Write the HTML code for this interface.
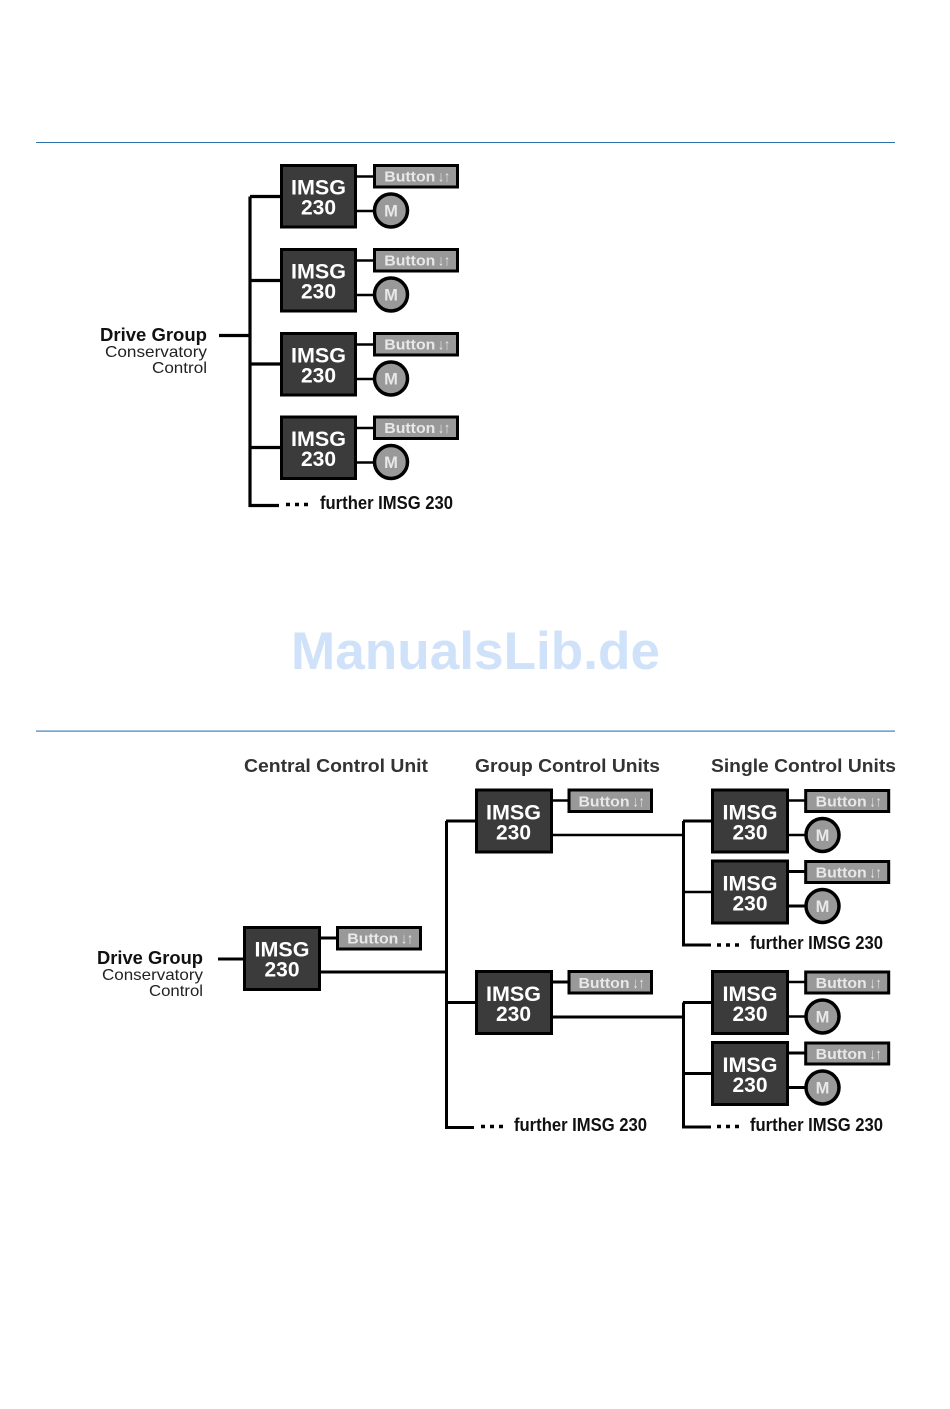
<!DOCTYPE html>
<html lang="en">
<head>
<meta charset="utf-8">
<title>Drive Group Diagrams</title>
<style>
html,body{margin:0;padding:0;background:#fff;width:950px;height:1409px;overflow:hidden}
svg{display:block;filter:blur(.3px)}
text{font-family:"Liberation Sans",sans-serif}
.i{font-weight:700;font-size:21px;fill:#fff;text-anchor:middle}
.b{font-weight:700;font-size:15px;fill:#e8e8e8}
.a{font-weight:700;font-size:15px;fill:#e8e8e8}
.m{font-weight:700;font-size:16.5px;fill:#e8e8e8;text-anchor:middle}
.box{fill:#3b3b3b;stroke:#000;stroke-width:3}
.btn{fill:#999;stroke:#000;stroke-width:3}
.mot{fill:#999;stroke:#000;stroke-width:3.5}
.h{font-weight:700;font-size:18px;fill:#333}
.f{font-weight:700;font-size:18px;fill:#111}
.dg{font-weight:700;font-size:18.5px;fill:#111}
.dl{font-size:16px;fill:#222}
.l{stroke:#000;fill:none}
</style>
</head>
<body>
<svg width="950" height="1409" viewBox="0 0 950 1409" xmlns="http://www.w3.org/2000/svg">
<rect width="950" height="1409" fill="#fff"/>
<rect x="36" y="142" width="859" height="1" fill="#2f74a8"/>
<rect x="36" y="730.5" width="859" height="1.2" fill="#3f82b8"/>

<text x="291" y="669" font-size="53" font-weight="700" fill="#cfe2fa" textLength="369" lengthAdjust="spacingAndGlyphs">ManualsLib.de</text>

<!-- Diagram 1 connectors -->
<g class="l" stroke-width="3.2">
<path d="M219 335.5H250M250 196.5V505.5H279M250 196.5H281M250 280.5H281M250 364H281M250 447.5H281"/>
</g>
<path d="M286 504.5h24" stroke="#000" stroke-width="3.5" stroke-dasharray="4 5"/>
<text class="f" x="320" y="509" textLength="133" lengthAdjust="spacingAndGlyphs">further IMSG 230</text>
<text class="dg" x="100" y="341" textLength="107" lengthAdjust="spacingAndGlyphs">Drive Group</text>
<text class="dl" x="105" y="357" textLength="102" lengthAdjust="spacingAndGlyphs">Conservatory</text>
<text class="dl" x="152" y="373" textLength="55" lengthAdjust="spacingAndGlyphs">Control</text>

<!-- Diagram 1 modules -->
<g transform="translate(281,165)">
<path class="l" stroke-width="2.5" d="M75 11.5H93M75 46H93"/>
<rect class="box" x="0.5" y="0.5" width="74" height="61.5"/>
<text class="i" x="37.5" y="29.7" textLength="55" lengthAdjust="spacingAndGlyphs">IMSG</text>
<text class="i" x="37.5" y="49.7" textLength="35" lengthAdjust="spacingAndGlyphs">230</text>
<rect class="btn" x="93.5" y="0.5" width="83" height="21.5"/>
<text class="b" x="103.3" y="16.7" textLength="51" lengthAdjust="spacingAndGlyphs">Button</text>
<text class="a" x="157" y="16.7" textLength="12" lengthAdjust="spacingAndGlyphs">↓↑</text>
<circle class="mot" cx="110" cy="45.5" r="16.5"/>
<text class="m" x="110" y="51.3">M</text>
</g>
<g transform="translate(281,249)">
<path class="l" stroke-width="2.5" d="M75 11.5H93M75 46H93"/>
<rect class="box" x="0.5" y="0.5" width="74" height="61.5"/>
<text class="i" x="37.5" y="29.7" textLength="55" lengthAdjust="spacingAndGlyphs">IMSG</text>
<text class="i" x="37.5" y="49.7" textLength="35" lengthAdjust="spacingAndGlyphs">230</text>
<rect class="btn" x="93.5" y="0.5" width="83" height="21.5"/>
<text class="b" x="103.3" y="16.7" textLength="51" lengthAdjust="spacingAndGlyphs">Button</text>
<text class="a" x="157" y="16.7" textLength="12" lengthAdjust="spacingAndGlyphs">↓↑</text>
<circle class="mot" cx="110" cy="45.5" r="16.5"/>
<text class="m" x="110" y="51.3">M</text>
</g>
<g transform="translate(281,333)">
<path class="l" stroke-width="2.5" d="M75 11.5H93M75 46H93"/>
<rect class="box" x="0.5" y="0.5" width="74" height="61.5"/>
<text class="i" x="37.5" y="29.7" textLength="55" lengthAdjust="spacingAndGlyphs">IMSG</text>
<text class="i" x="37.5" y="49.7" textLength="35" lengthAdjust="spacingAndGlyphs">230</text>
<rect class="btn" x="93.5" y="0.5" width="83" height="21.5"/>
<text class="b" x="103.3" y="16.7" textLength="51" lengthAdjust="spacingAndGlyphs">Button</text>
<text class="a" x="157" y="16.7" textLength="12" lengthAdjust="spacingAndGlyphs">↓↑</text>
<circle class="mot" cx="110" cy="45.5" r="16.5"/>
<text class="m" x="110" y="51.3">M</text>
</g>
<g transform="translate(281,416.5)">
<path class="l" stroke-width="2.5" d="M75 11.5H93M75 46H93"/>
<rect class="box" x="0.5" y="0.5" width="74" height="61.5"/>
<text class="i" x="37.5" y="29.7" textLength="55" lengthAdjust="spacingAndGlyphs">IMSG</text>
<text class="i" x="37.5" y="49.7" textLength="35" lengthAdjust="spacingAndGlyphs">230</text>
<rect class="btn" x="93.5" y="0.5" width="83" height="21.5"/>
<text class="b" x="103.3" y="16.7" textLength="51" lengthAdjust="spacingAndGlyphs">Button</text>
<text class="a" x="157" y="16.7" textLength="12" lengthAdjust="spacingAndGlyphs">↓↑</text>
<circle class="mot" cx="110" cy="45.5" r="16.5"/>
<text class="m" x="110" y="51.3">M</text>
</g>

<!-- Diagram 2 headers -->
<text class="h" x="244" y="772" textLength="184" lengthAdjust="spacingAndGlyphs">Central Control Unit</text>
<text class="h" x="475" y="772" textLength="185" lengthAdjust="spacingAndGlyphs">Group Control Units</text>
<text class="h" x="711" y="772" textLength="185" lengthAdjust="spacingAndGlyphs">Single Control Units</text>

<text class="dg" x="97" y="964" textLength="106" lengthAdjust="spacingAndGlyphs">Drive Group</text>
<text class="dl" x="102" y="980" textLength="101" lengthAdjust="spacingAndGlyphs">Conservatory</text>
<text class="dl" x="149" y="996" textLength="54" lengthAdjust="spacingAndGlyphs">Control</text>

<!-- Diagram 2 connectors -->
<g class="l" stroke-width="3">
<path d="M218 959H245M320 972H446M446.5 821V1127.5H474M446 821H476M446 1002.5H476"/>
<path d="M552 1017H683M683.5 1002.5V1127H711M683 1002.5H712M683 1073.5H712"/>
<path d="M683.5 821V945H711M683 821H712"/>
</g>
<path class="l" stroke-width="2.4" d="M552 835H683M683 892H712"/>
<path d="M481 1126.5h24M717 945h26M717 1126.5h26" stroke="#000" stroke-width="3.5" stroke-dasharray="4 5"/>
<text class="f" x="514" y="1131" textLength="133" lengthAdjust="spacingAndGlyphs">further IMSG 230</text>
<text class="f" x="750" y="949" textLength="133" lengthAdjust="spacingAndGlyphs">further IMSG 230</text>
<text class="f" x="750" y="1131" textLength="133" lengthAdjust="spacingAndGlyphs">further IMSG 230</text>

<!-- Central -->
<g transform="translate(244,927)">
<path class="l" stroke-width="3" d="M75 11H93"/>
<rect class="box" x="0.5" y="0.5" width="75" height="62"/>
<text class="i" x="38" y="29.7" textLength="55" lengthAdjust="spacingAndGlyphs">IMSG</text>
<text class="i" x="38" y="49.7" textLength="35" lengthAdjust="spacingAndGlyphs">230</text>
<rect class="btn" x="93.5" y="0.5" width="83" height="21.5"/>
<text class="b" x="103.3" y="16.7" textLength="51" lengthAdjust="spacingAndGlyphs">Button</text>
<text class="a" x="157" y="16.7" textLength="12" lengthAdjust="spacingAndGlyphs">↓↑</text>
</g>

<!-- Group -->
<g transform="translate(476,789.5)">
<path class="l" stroke-width="2.5" d="M75 11H93"/>
<rect class="box" x="0.5" y="0.5" width="75" height="62"/>
<text class="i" x="37.5" y="30.2" textLength="55" lengthAdjust="spacingAndGlyphs">IMSG</text>
<text class="i" x="37.5" y="50.2" textLength="35" lengthAdjust="spacingAndGlyphs">230</text>
<rect class="btn" x="93" y="0.5" width="82.5" height="21.5"/>
<text class="b" x="102.5" y="17" textLength="51" lengthAdjust="spacingAndGlyphs">Button</text>
<text class="a" x="156.5" y="17" textLength="12" lengthAdjust="spacingAndGlyphs">↓↑</text>
</g>
<g transform="translate(476,971)">
<path class="l" stroke-width="3" d="M75 11H93"/>
<rect class="box" x="0.5" y="0.5" width="75" height="62"/>
<text class="i" x="37.5" y="30.2" textLength="55" lengthAdjust="spacingAndGlyphs">IMSG</text>
<text class="i" x="37.5" y="50.2" textLength="35" lengthAdjust="spacingAndGlyphs">230</text>
<rect class="btn" x="93" y="0.5" width="82.5" height="21.5"/>
<text class="b" x="102.5" y="17" textLength="51" lengthAdjust="spacingAndGlyphs">Button</text>
<text class="a" x="156.5" y="17" textLength="12" lengthAdjust="spacingAndGlyphs">↓↑</text>
</g>

<!-- Single -->
<g transform="translate(712,789.5)">
<path class="l" stroke-width="2.5" d="M75 11H94M75 45.5H94"/>
<rect class="box" x="0.5" y="0.5" width="75" height="62"/>
<text class="i" x="38" y="30.2" textLength="55" lengthAdjust="spacingAndGlyphs">IMSG</text>
<text class="i" x="38" y="50.2" textLength="35" lengthAdjust="spacingAndGlyphs">230</text>
<rect class="btn" x="93.7" y="1" width="83" height="21"/>
<text class="b" x="103.7" y="17" textLength="51" lengthAdjust="spacingAndGlyphs">Button</text>
<text class="a" x="157.5" y="17" textLength="12" lengthAdjust="spacingAndGlyphs">↓↑</text>
<circle class="mot" cx="110.5" cy="45.5" r="16.5"/>
<text class="m" x="110.5" y="51.3">M</text>
</g>
<g transform="translate(712,860.5)">
<path class="l" stroke-width="3" d="M75 11H94M75 45.5H94"/>
<rect class="box" x="0.5" y="0.5" width="75" height="62"/>
<text class="i" x="38" y="30.2" textLength="55" lengthAdjust="spacingAndGlyphs">IMSG</text>
<text class="i" x="38" y="50.2" textLength="35" lengthAdjust="spacingAndGlyphs">230</text>
<rect class="btn" x="93.7" y="1" width="83" height="21"/>
<text class="b" x="103.7" y="17" textLength="51" lengthAdjust="spacingAndGlyphs">Button</text>
<text class="a" x="157.5" y="17" textLength="12" lengthAdjust="spacingAndGlyphs">↓↑</text>
<circle class="mot" cx="110.5" cy="45.5" r="16.5"/>
<text class="m" x="110.5" y="51.3">M</text>
</g>
<g transform="translate(712,971)">
<path class="l" stroke-width="2.5" d="M75 11H94M75 45.5H94"/>
<rect class="box" x="0.5" y="0.5" width="75" height="62"/>
<text class="i" x="38" y="30.2" textLength="55" lengthAdjust="spacingAndGlyphs">IMSG</text>
<text class="i" x="38" y="50.2" textLength="35" lengthAdjust="spacingAndGlyphs">230</text>
<rect class="btn" x="93.7" y="1" width="83" height="21"/>
<text class="b" x="103.7" y="17" textLength="51" lengthAdjust="spacingAndGlyphs">Button</text>
<text class="a" x="157.5" y="17" textLength="12" lengthAdjust="spacingAndGlyphs">↓↑</text>
<circle class="mot" cx="110.5" cy="45.5" r="16.5"/>
<text class="m" x="110.5" y="51.3">M</text>
</g>
<g transform="translate(712,1042)">
<path class="l" stroke-width="3" d="M75 11H94M75 45.5H94"/>
<rect class="box" x="0.5" y="0.5" width="75" height="62"/>
<text class="i" x="38" y="30.2" textLength="55" lengthAdjust="spacingAndGlyphs">IMSG</text>
<text class="i" x="38" y="50.2" textLength="35" lengthAdjust="spacingAndGlyphs">230</text>
<rect class="btn" x="93.7" y="1" width="83" height="21"/>
<text class="b" x="103.7" y="17" textLength="51" lengthAdjust="spacingAndGlyphs">Button</text>
<text class="a" x="157.5" y="17" textLength="12" lengthAdjust="spacingAndGlyphs">↓↑</text>
<circle class="mot" cx="110.5" cy="45.5" r="16.5"/>
<text class="m" x="110.5" y="51.3">M</text>
</g>
</svg>
</body>
</html>
